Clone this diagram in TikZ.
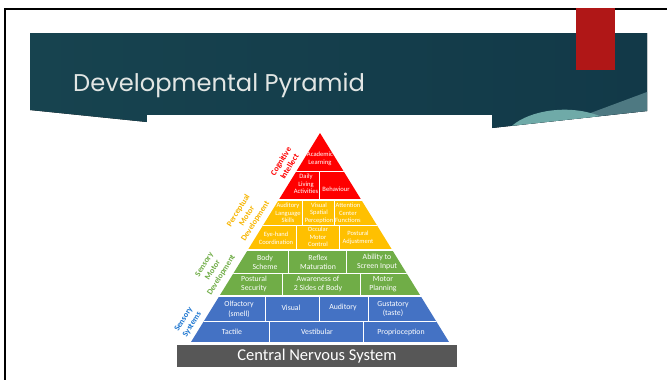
\documentclass[tikz,border=0pt]{standalone}
\usepackage{fontspec}
\setmainfont{Carlito}
\newfontfamily\titlefont{Poppins}

\definecolor{tealleft}{HTML}{17434F}
\definecolor{tealmid}{HTML}{3D756C}
\definecolor{tealright}{HTML}{123948}
\definecolor{tealwave}{HTML}{6FAAA8}
\definecolor{tealband}{HTML}{4E7982}
\definecolor{titlegrey}{HTML}{E2E6E4}
\definecolor{slidered}{HTML}{B01717}
\definecolor{cogred}{HTML}{FF0000}
\definecolor{percyellow}{HTML}{FFC000}
\definecolor{perclabel}{HTML}{F7B500}
\definecolor{sensgreen}{HTML}{70AD47}
\definecolor{sysblue}{HTML}{4472C4}
\definecolor{syslabel}{HTML}{1B75D0}
\definecolor{cnsgrey}{HTML}{575757}

\tikzset{
  cell/.style={text=white, align=center, inner sep=0pt},
  cogcell/.style={cell, font=\fontsize{6.6}{7.5}\selectfont},
  perccell/.style={cell, font=\fontsize{6.5}{7.7}\selectfont},
  senscell/.style={cell, font=\fontsize{7.8}{9}\selectfont},
  syscell/.style={cell, font=\fontsize{7.8}{9.8}\selectfont},
  sidelabel/.style={rotate=58, align=center, inner sep=0pt,
    font=\fontsize{8.2}{10}\selectfont\bfseries},
  divider/.style={white, line width=0.9pt}
}

\begin{document}
\begin{tikzpicture}[x=1pt, y=-1pt]
\useasboundingbox (0,0) rectangle (667,380);

\draw[line width=2.2pt] (5,380) -- (5,8.6) -- (667,8.6);

\fill[left color=tealleft, middle color=tealmid, right color=tealright]
  (30,33) -- (647,33) -- (647,111) -- (492,128) -- (320,125) -- (147,122) -- (30,110) -- cycle;
\fill[tealband] (575,118.8) -- (647,92) -- (647,111) -- cycle;
\fill[tealwave] (512,125.8) .. controls (530,110) and (570,104) .. (600,116.2) -- cycle;
\fill[white] (147,115) rectangle (492,380);
\fill[slidered] (576,8) rectangle (615,70);

\node[anchor=base west, inner sep=0pt, text=titlegrey,
  font=\titlefont\fontsize{24.2}{28}\selectfont] (title) at (73,91) {Developmental Pyramid};

\begin{scope}
  \clip (320,133) -- (191,342) -- (449,342) -- cycle;
  \fill[cogred] (150,120) rectangle (490,199);
  \fill[percyellow] (150,201) rectangle (490,249);
  \fill[sensgreen] (150,251) rectangle (490,294.5);
  \fill[sysblue] (150,297) rectangle (490,342);
  \draw[divider] (150,171) -- (490,171);
  \draw[divider] (150,225) -- (490,225);
  \draw[divider] (150,273) -- (490,273);
  \draw[divider] (150,321) -- (490,321);
  \draw[divider] (319,171) -- (319,199);
  \draw[divider] (302,201) -- (302,225) (334,201) -- (334,225);
  \draw[divider] (296,225) -- (296,249) (339,225) -- (339,249);
  \draw[divider] (288,251) -- (288,273) (346,251) -- (346,273);
  \draw[divider] (282,273) -- (282,294.5) (360,273) -- (360,294.5);
  \draw[divider] (265,297) -- (265,321) (319,297) -- (319,321) (368,297) -- (368,321);
  \draw[divider] (269,321) -- (269,342) (363,321) -- (363,342);
\end{scope}

\node[cogcell] (academic) at (320,159) {Academic\\Learning};
\node[cogcell] (daily) at (306,184) {Daily\\Living\\Activities};
\node[cogcell] (behaviour) at (336,189) {Behaviour};

\node[perccell] (auditorylang) at (288,213) {Auditory\\Language\\Skills};
\node[perccell] (visualspatial) at (319,213) {Visual\\Spatial\\Perception};
\node[perccell] (attention) at (348,213) {Attention\\Center\\Functions};
\node[perccell] (eyehand) at (276,238) {Eye-hand\\Coordination};
\node[perccell] (occular) at (318,237) {Occular\\Motor\\Control};
\node[perccell] (posturaladj) at (358,238) {Postural\\Adjustment};

\node[senscell] (bodyscheme) at (265,262) {Body\\Scheme};
\node[senscell] (reflex) at (318,262) {Reflex\\Maturation};
\node[senscell] (screen) at (377,262) {Ability to\\Screen Input};
\node[senscell] (posturalsec) at (254,284) {Postural\\Security};
\node[senscell] (awareness) at (318,284) {Awareness of\\2 Sides of Body};
\node[senscell] (motorplan) at (383,284) {Motor\\Planning};

\node[syscell] (olfactory) at (239,309) {Olfactory\\(smell)};
\node[syscell] (visual) at (291,308) {Visual};
\node[syscell] (auditory) at (343,307) {Auditory};
\node[syscell] (gustatory) at (393,309) {Gustatory\\(taste)};
\node[syscell] (tactile) at (232,332) {Tactile};
\node[syscell] (vestibular) at (317,332) {Vestibular};
\node[syscell] (proprio) at (401,332) {Proprioception};

\node[fill=cnsgrey, text=white, minimum width=280pt, minimum height=22pt, inner sep=0pt,
  font=\fontsize{16.5}{18}\selectfont] (cns) at (317,356) {Central Nervous System};

\node[sidelabel, text=cogred] (cognitive) at (285,164) {Cognitive\\Intellect};
\node[sidelabel, text=perclabel] (perceptual) at (247,216) {Perceptual\\Motor\\Development};
\node[sidelabel, text=sensgreen] (sensorymotor) at (213,270) {Sensory\\Motor\\Development};
\node[sidelabel, text=syslabel] (systems) at (188,322) {Sensory\\Systems};
\end{tikzpicture}
\end{document}
